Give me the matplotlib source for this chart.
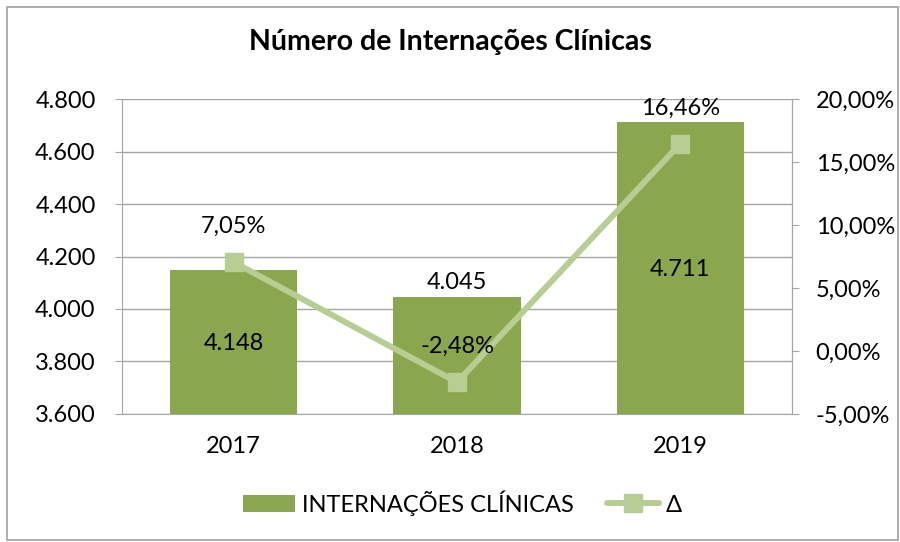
import numpy as np
import matplotlib
matplotlib.use("Agg")
from matplotlib import pyplot as plt
from matplotlib.patches import Rectangle

# data
anos = ["2017", "2018", "2019"]
internacoes = [4148, 4045, 4711]
delta = [7.05, -2.48, 16.46]

bar_color = "#8AA64F"
line_color = "#B7CD94"
grid_color = "#A6A6A6"

plt.rcParams["font.family"] = ["Lato", "DejaVu Sans"]
FS = 17

def fmt_milhar(v):
    return "{:,.0f}".format(v).replace(",", ".")

def fmt_pct(v):
    return "{:.2f}%".format(v).replace(".", ",")

fig = plt.figure(figsize=(9, 5.42), dpi=100)
fig.patches.append(Rectangle((0.008, 0.004), 0.99, 0.983, transform=fig.transFigure,
                             fill=False, edgecolor="#A0A0A0", linewidth=1.2))

ax = fig.add_axes([0.1356, 0.2362, 0.7444, 0.5811])
x = np.arange(len(anos))
bars = ax.bar(x, internacoes, width=0.57, color=bar_color, zorder=2,
              label="INTERNAÇÕES CLÍNICAS")
ax.set_ylim(3600, 4800)
ax.set_xlim(-0.5, 2.5)
ax.set_yticks(np.arange(3600, 4801, 200))
ax.set_yticklabels([fmt_milhar(v) for v in np.arange(3600, 4801, 200)])
ax.set_xticks(x)
ax.set_xticklabels(anos)
ax.grid(axis="y", color=grid_color, linewidth=1, zorder=0)
ax.spines["top"].set_visible(False)
for s in ["left", "bottom", "right"]:
    ax.spines[s].set_color(grid_color)
ax.tick_params(axis="y", colors=grid_color, labelcolor="black", labelsize=FS,
               length=5, direction="out", pad=14)
ax.tick_params(axis="x", length=0, labelsize=FS, pad=16)

# bar labels
ax.text(x[0], 3870, fmt_milhar(internacoes[0]), ha="center", va="center", fontsize=FS, zorder=5)
ax.text(x[1], internacoes[1] + 15, fmt_milhar(internacoes[1]), ha="center", va="bottom", fontsize=FS, zorder=5)
ax.text(x[2], 4150, fmt_milhar(internacoes[2]), ha="center", va="center", fontsize=FS, zorder=5)

ax2 = ax.twinx()
ax2.set_ylim(-5, 20)
ax2.set_yticks(np.arange(-5, 20.1, 5))
ax2.set_yticklabels([fmt_pct(v) for v in np.arange(-5, 20.1, 5)])
line, = ax2.plot(x, delta, color=line_color, linewidth=4.3, marker="s",
                 markersize=13, solid_capstyle="round", zorder=4, label="Δ")
for s in ["top", "left", "bottom"]:
    ax2.spines[s].set_visible(False)
ax2.spines["right"].set_color(grid_color)
ax2.tick_params(axis="y", colors=grid_color, labelcolor="black", labelsize=FS,
                length=5, direction="out", pad=12)
for xi, d in zip(x, delta):
    ax2.text(xi, d + 2.0, fmt_pct(d), ha="center", va="bottom", fontsize=FS, zorder=6)

fig.text(0.5, 0.922, "Número de Internações Clínicas", ha="center", va="center",
         fontsize=20.5, fontweight="bold")

fig.legend(handles=[bars, line], loc="center", bbox_to_anchor=(0.514, 0.072), ncol=2,
           frameon=False, fontsize=FS, handlelength=2.2, columnspacing=1.4,
           handletextpad=0.3)

fig.savefig("out.png", dpi=100)
